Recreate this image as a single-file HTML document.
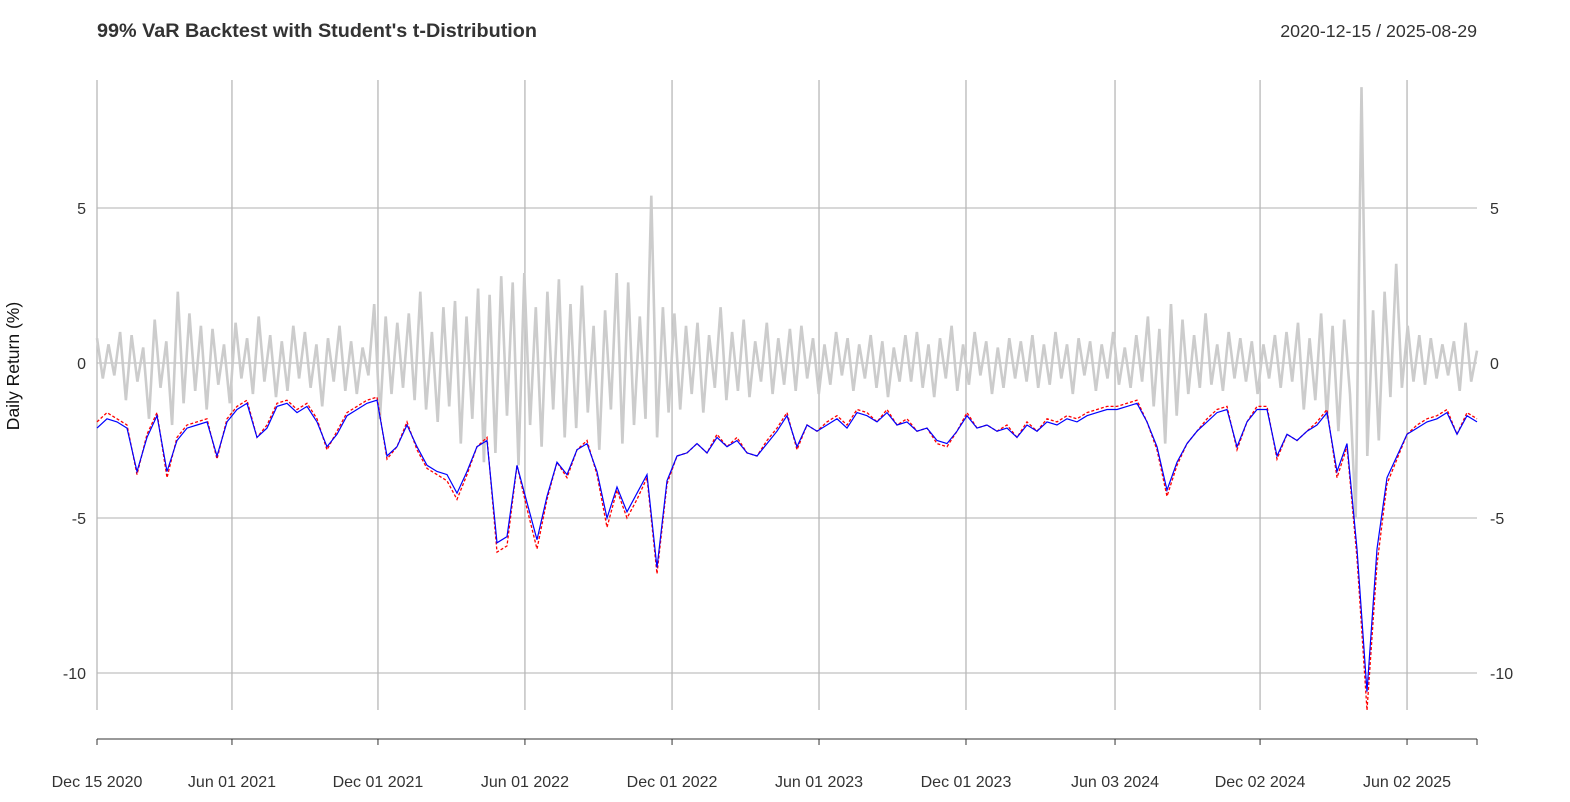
<!DOCTYPE html>
<html><head><meta charset="utf-8"><style>
body{margin:0;background:#fff;}
svg{display:block;font-family:"Liberation Sans",Arial,sans-serif;}
</style></head><body>
<svg id="chart" width="1570" height="802" viewBox="0 0 1570 802">
<text x="97" y="37" font-size="19.8" font-weight="bold" fill="#333">99% VaR Backtest with Student's t-Distribution</text>
<text x="1477" y="37" font-size="17.8" fill="#333" text-anchor="end">2020-12-15 / 2025-08-29</text>
<text transform="translate(19,366) rotate(-90)" font-size="17.5" fill="#111" text-anchor="middle">Daily Return (%)</text>
<g id="grid"></g><g id="series"></g><g id="axes"></g>
</svg>
<script>
const yTicks=[5,0,-5,-10];
const xTickLabels=["Dec 15 2020","Jun 01 2021","Dec 01 2021","Jun 01 2022","Dec 01 2022","Jun 01 2023","Dec 01 2023","Jun 03 2024","Dec 02 2024","Jun 02 2025"];
const xTickFrac=[0,0.0978,0.2036,0.3101,0.4167,0.5232,0.6297,0.7377,0.8428,0.9493];
const returns=[0.8,-0.5,0.6,-0.4,1.0,-1.2,0.9,-0.6,0.5,-1.8,1.4,-0.8,0.7,-2.0,2.3,-1.3,1.6,-0.9,1.2,-1.5,
1.1,-0.7,0.6,-1.3,1.3,-0.5,0.8,-1.0,1.5,-0.6,0.9,-1.1,0.7,-0.9,1.2,-0.5,1.0,-0.8,0.6,-1.4,
0.8,-0.6,1.2,-0.9,0.7,-1.0,0.5,-0.4,1.9,-1.8,1.5,-1.0,1.3,-0.8,1.6,-1.2,2.3,-1.5,1.0,-1.9,
1.8,-1.4,2.0,-2.6,1.5,-1.8,2.4,-3.2,2.2,-2.9,2.8,-1.7,2.6,-3.3,2.9,-2.0,1.8,-2.7,2.3,-1.5,
2.7,-2.4,1.9,-2.1,2.5,-1.6,1.2,-2.8,1.7,-1.5,2.9,-2.6,2.6,-2.0,1.5,-1.8,5.4,-2.4,1.8,-1.6,
1.6,-1.5,1.2,-1.0,1.3,-1.6,0.9,-0.8,1.8,-1.2,1.0,-0.9,1.4,-1.1,0.7,-0.6,1.3,-1.0,0.8,-0.7,
1.1,-0.9,1.2,-0.5,0.8,-1.0,0.6,-0.7,1.0,-0.4,0.8,-0.9,0.6,-0.5,0.9,-0.8,0.7,-1.1,0.5,-0.6,
0.9,-0.6,1.0,-0.8,0.6,-1.1,0.8,-0.5,1.2,-0.9,0.6,-0.7,1.0,-0.4,0.7,-1.0,0.5,-0.8,0.8,-0.5,
0.7,-0.6,0.9,-0.8,0.6,-0.7,1.0,-0.5,0.6,-1.0,0.8,-0.4,0.7,-0.9,0.6,-0.5,1.0,-0.7,0.5,-0.8,
0.9,-0.6,1.5,-1.4,1.1,-2.6,1.9,-1.7,1.4,-1.0,0.9,-0.8,1.6,-0.7,0.6,-0.9,1.0,-0.5,0.8,-0.6,
0.7,-1.0,0.6,-0.5,0.9,-0.8,1.0,-0.6,1.3,-1.5,0.8,-1.2,1.6,-1.8,1.2,-2.2,1.4,-1.0,-5.0,8.9,
-3.0,1.7,-2.5,2.3,-1.1,3.2,-0.8,1.2,-0.6,0.9,-0.7,0.8,-0.5,0.6,-0.4,0.7,-0.9,1.3,-0.6,0.4];
const varT=[-2.1,-1.8,-1.9,-2.1,-3.5,-2.4,-1.7,-3.5,-2.5,-2.1,-2.0,-1.9,-3.0,-1.9,-1.5,-1.3,-2.4,-2.1,-1.4,-1.3,
-1.6,-1.4,-1.9,-2.7,-2.3,-1.7,-1.5,-1.3,-1.2,-3.0,-2.7,-2.0,-2.7,-3.3,-3.5,-3.6,-4.2,-3.5,-2.7,-2.5,
-5.8,-5.6,-3.3,-4.5,-5.7,-4.3,-3.2,-3.6,-2.8,-2.6,-3.5,-5.0,-4.0,-4.8,-4.2,-3.6,-6.6,-3.8,-3.0,-2.9,
-2.6,-2.9,-2.4,-2.7,-2.5,-2.9,-3.0,-2.6,-2.2,-1.7,-2.7,-2.0,-2.2,-2.0,-1.8,-2.1,-1.6,-1.7,-1.9,-1.6,
-2.0,-1.9,-2.2,-2.1,-2.5,-2.6,-2.2,-1.7,-2.1,-2.0,-2.2,-2.1,-2.4,-2.0,-2.2,-1.9,-2.0,-1.8,-1.9,-1.7,
-1.6,-1.5,-1.5,-1.4,-1.3,-1.9,-2.7,-4.1,-3.2,-2.6,-2.2,-1.9,-1.6,-1.5,-2.7,-1.9,-1.5,-1.5,-3.0,-2.3,
-2.5,-2.2,-2.0,-1.6,-3.5,-2.6,-6.0,-10.6,-6.0,-3.7,-3.0,-2.3,-2.1,-1.9,-1.8,-1.6,-2.3,-1.7,-1.9];
const varN=[-1.9,-1.6,-1.8,-2.0,-3.6,-2.3,-1.6,-3.7,-2.4,-2.0,-1.9,-1.8,-3.1,-1.8,-1.4,-1.2,-2.4,-2.0,-1.3,-1.2,
-1.5,-1.3,-1.8,-2.8,-2.2,-1.6,-1.4,-1.2,-1.1,-3.1,-2.7,-1.9,-2.8,-3.4,-3.6,-3.8,-4.4,-3.6,-2.7,-2.4,
-6.1,-5.9,-3.3,-4.7,-6.0,-4.4,-3.2,-3.7,-2.8,-2.5,-3.6,-5.3,-4.1,-5.0,-4.4,-3.7,-6.8,-3.9,-3.0,-2.9,
-2.6,-2.9,-2.3,-2.7,-2.4,-2.9,-3.0,-2.5,-2.1,-1.6,-2.8,-2.0,-2.2,-1.9,-1.7,-2.0,-1.5,-1.6,-1.9,-1.5,
-2.0,-1.8,-2.2,-2.1,-2.6,-2.7,-2.2,-1.6,-2.1,-2.0,-2.2,-2.0,-2.4,-1.9,-2.2,-1.8,-1.9,-1.7,-1.8,-1.6,
-1.5,-1.4,-1.4,-1.3,-1.2,-1.9,-2.8,-4.3,-3.3,-2.6,-2.2,-1.8,-1.5,-1.4,-2.8,-1.9,-1.4,-1.4,-3.1,-2.3,
-2.5,-2.2,-1.9,-1.5,-3.7,-2.7,-6.3,-11.2,-6.5,-3.9,-3.1,-2.3,-2.0,-1.8,-1.7,-1.5,-2.3,-1.6,-1.8];

const X0=97,X1=1477,Y0=80,Y1=710;
const ys=v=>363-31*v;
const xf=f=>X0+(X1-X0)*f;
const NS="http://www.w3.org/2000/svg";
function mk(tag,attrs,parent){const e=document.createElementNS(NS,tag);for(const k in attrs)e.setAttribute(k,attrs[k]);parent.appendChild(e);return e;}
const grid=document.getElementById('grid'),series=document.getElementById('series'),axes=document.getElementById('axes');
yTicks.forEach(v=>{
 const l=mk('line',{x1:X0,x2:X1,y1:ys(v),y2:ys(v),stroke:'#b0b0b0','stroke-width':1},grid);
 
 
 const t1=mk('text',{x:86,y:ys(v)+6,'font-size':16,fill:'#333','text-anchor':'end'},axes);t1.textContent=v;
 
 
 const t2=mk('text',{x:1490,y:ys(v)+6,'font-size':16,fill:'#333'},axes);t2.textContent=v;
 
 
});
xTickFrac.forEach((f,i)=>{
 const x=xf(f);
 const g=mk('line',{x1:x,x2:x,y1:Y0,y2:Y1,stroke:'#b8b8b8','stroke-width':1.3},grid);
 
 
 const tk=mk('line',{x1:x,x2:x,y1:739,y2:745,stroke:'#333'},axes);
 
 
 const t=mk('text',{x:x,y:787,'font-size':16,fill:'#333','text-anchor':'middle'},axes);t.textContent=xTickLabels[i];
 
 
});
const ax=mk('line',{x1:X0,x2:X1,y1:739,y2:739,stroke:'#333'},axes);


const et=mk('line',{x1:X1,x2:X1,y1:739,y2:745,stroke:'#333'},axes);


function pts(arr){return arr.map((v,i)=>(X0+(X1-X0)*i/(arr.length-1)).toFixed(1)+','+ys(v).toFixed(1)).join(' ');}
const r=mk('polyline',{points:pts(returns),fill:'none',stroke:'#cccccc','stroke-width':2.6},series);


const n=mk('polyline',{points:pts(varN),fill:'none',stroke:'#ff0000','stroke-width':1.3,'stroke-dasharray':'3,2'},series);


const t=mk('polyline',{points:pts(varT),fill:'none',stroke:'#0000ff','stroke-width':1.2},series);


</script>
</body></html>
